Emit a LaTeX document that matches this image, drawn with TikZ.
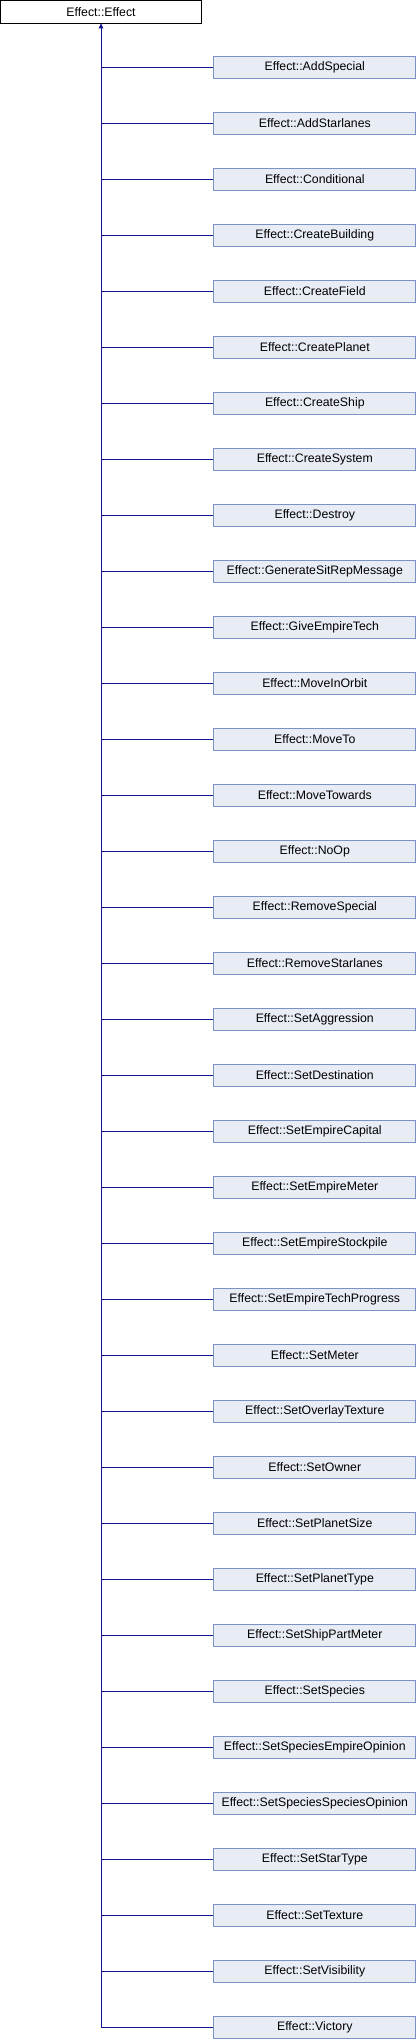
\documentclass[tikz,border=0pt]{standalone}
\usepackage{fontspec}
\setmainfont{Liberation Sans}
\usetikzlibrary{arrows.meta}

\begin{document}
\begin{tikzpicture}[
  x=1pt,
  y=-1pt,
  font=\fontsize{12.3}{14}\selectfont,
  line cap=butt
]

  \def\gapy{56}
  \def\firsty{67.5}

  % colours of the diagram
  \definecolor{edgeblue}{RGB}{20,20,150}
  \definecolor{boxfill}{RGB}{232,236,245}
  \definecolor{boxline}{RGB}{122,146,196}

  % styles for the base class and the derived classes
  \tikzset{
    baseclass/.style={draw=black, fill=white, line width=0.8pt,
      minimum width=201pt, minimum height=22.5pt, inner sep=0pt},
    subclass/.style={draw=boxline, fill=boxfill, line width=0.8pt,
      minimum width=202pt, minimum height=22.5pt, inner sep=0pt},
    inherit/.style={draw=edgeblue, line width=0.8pt}
  }

  \useasboundingbox (0,0) rectangle (416,2040);

  % base class
  \node[baseclass] (effect) at (101,11.7) {Effect::Effect};

  % derived classes, one under the other
  \foreach \n [count=\i] in {AddSpecial,AddStarlanes,Conditional,
      CreateBuilding,CreateField,CreatePlanet,CreateShip,CreateSystem,
      Destroy,GenerateSitRepMessage,GiveEmpireTech,MoveInOrbit,MoveTo,
      MoveTowards,NoOp,RemoveSpecial,RemoveStarlanes,SetAggression,
      SetDestination,SetEmpireCapital,SetEmpireMeter,SetEmpireStockpile,
      SetEmpireTechProgress,SetMeter,SetOverlayTexture,SetOwner,
      SetPlanetSize,SetPlanetType,SetShipPartMeter,SetSpecies,
      SetSpeciesEmpireOpinion,SetSpeciesSpeciesOpinion,SetStarType,
      SetTexture,SetVisibility,Victory} {
    \node[subclass] (c\i) at (314.8,\firsty+\gapy*\i-\gapy) {Effect::\n};
    \coordinate (j\i) at (101,\firsty+\gapy*\i-\gapy);
    \draw[inherit] (c\i.west) -- (j\i);
  }

  % trunk up to the base class
  \draw[inherit, -{Triangle[length=5pt,width=4.5pt]}] (j36) -- (effect.south);

\end{tikzpicture}
\end{document}
